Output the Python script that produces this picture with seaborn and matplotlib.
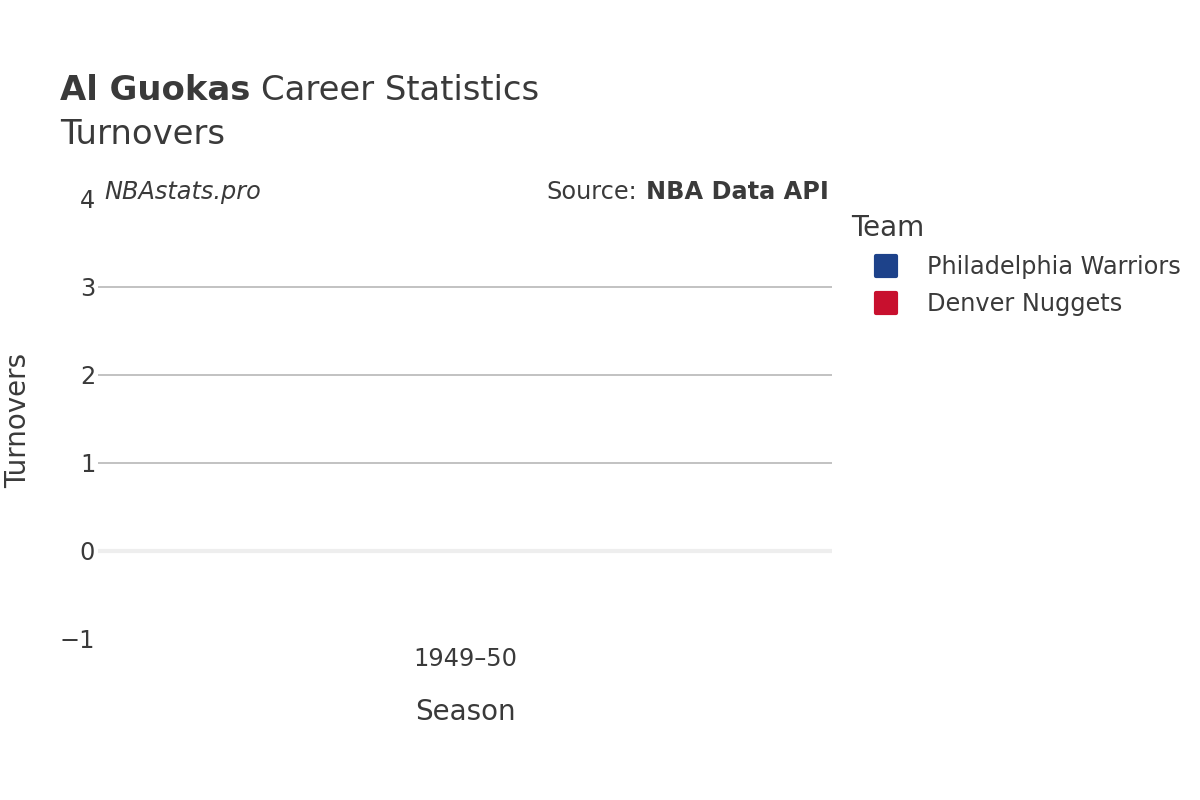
import numpy as np
import pandas as pd
import seaborn as sns
import matplotlib.pyplot as plt
from matplotlib.lines import Line2D
from matplotlib.markers import MarkerStyle

player = 'Al Guokas'
stat_name = 'Turnovers'
seasons = ['1949–50']
teams = ['Philadelphia Warriors', 'Denver Nuggets']
team_colors = ['#1d428a', '#c8102e']
# no turnover numbers were recorded for that season
turnovers = [np.nan, np.nan]

df = pd.DataFrame({'Season': [seasons[0]] * len(teams), 'Team': teams, stat_name: turnovers})

sns.set_theme(style='white')
plt.rcParams['font.family'] = ['DejaVu Sans']
txt = '#3a3a3a'

fig = plt.figure(figsize=(12, 8), dpi=100)
ax = fig.add_axes([98 / 1200, 1 - 639 / 800, (832 - 98) / 1200, (639 - 199) / 800])

palette = dict(zip(teams, team_colors))
sns.scatterplot(data=df.dropna(), x='Season', y=stat_name, hue='Team', palette=palette,
                s=150, ax=ax, legend=False)

ax.set_xticks(range(len(seasons)))
ax.set_xticklabels(seasons)
ax.set_xlim(-1, len(seasons))
ax.set_ylim(-1, 4)
ax.set_yticks([-1, 0, 1, 2, 3, 4])
ax.set_yticklabels(['−1', '0', '1', '2', '3', '4'])
for y in [1, 2, 3]:
    ax.axhline(y, color='#bdbdbd', lw=1.3, zorder=0)
ax.axhline(0, color='#eeeeee', lw=3, zorder=0)
for s in ax.spines.values():
    s.set_visible(False)
ax.tick_params(axis='both', length=0, labelsize=17.3, labelcolor=txt)
ax.tick_params(axis='x', pad=6)
ax.tick_params(axis='y', pad=2)
ax.set_xlabel('Season', fontsize=20, color=txt, labelpad=19)
ax.set_ylabel('')
fig.text(18 / 1200, 1 - 420 / 800, stat_name, rotation=90, fontsize=20, color=txt,
         ha='center', va='center')

# title
fig.canvas.draw()
r = fig.canvas.get_renderer()
t1 = fig.text(60 / 1200, 1 - 91 / 800, player, fontsize=24.4, fontweight='bold', color=txt, va='center')
bb = t1.get_window_extent(renderer=r)
fig.text((bb.x1 + 11) / 1200, 1 - 91 / 800, 'Career Statistics', fontsize=24.4, color=txt, va='center')
fig.text(60 / 1200, 1 - 135 / 800, stat_name, fontsize=24.4, color=txt, va='center')

# watermark and source
fig.text(104 / 1200, 1 - 192 / 800, 'NBAstats.pro', fontsize=17.3, style='italic', color=txt, va='center')
t2 = fig.text(829 / 1200, 1 - 192 / 800, 'NBA Data API', fontsize=17.3, fontweight='bold', color=txt,
              va='center', ha='right')
bb2 = t2.get_window_extent(renderer=r)
fig.text((bb2.x0 - 9) / 1200, 1 - 192 / 800, 'Source:', fontsize=17.3, color=txt, va='center', ha='right')

# legend
sq = MarkerStyle('s', joinstyle='round')
handles = [Line2D([], [], marker=sq, ls='', markersize=14, markeredgewidth=3,
                  markerfacecolor=c, markeredgecolor=c) for c in team_colors]
leg = fig.legend(handles, teams, title='Team', loc='upper left', bbox_to_anchor=(851 / 1200, 1 - 214 / 800),
                 frameon=False, fontsize=17.3, title_fontsize=20, handlelength=2.9, handletextpad=0.25,
                 labelspacing=0.55, borderpad=0, borderaxespad=0, alignment='left')
for t in leg.get_texts():
    t.set_color(txt)
leg.get_title().set_color(txt)

fig.savefig('out.png', dpi=100, facecolor='white')
